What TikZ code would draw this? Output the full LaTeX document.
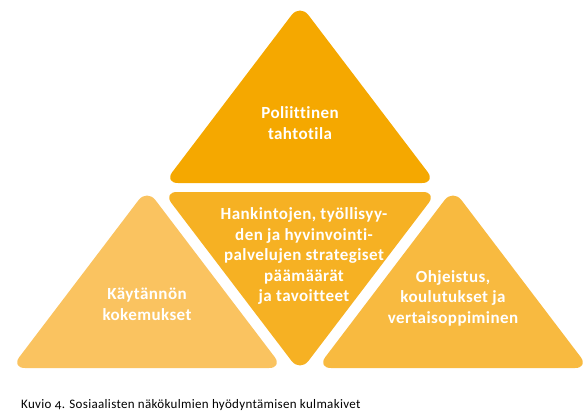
\documentclass[tikz,border=0pt]{standalone}
\usepackage{fontspec}
\setmainfont{Carlito}[Numbers=OldStyle, Ligatures=NoCommon]
\newfontfamily\lblfont{Carlito}[LetterSpace=2.5, Ligatures=NoCommon]
\newfontfamily\capfont{Carlito}[LetterSpace=2.5, Ligatures=NoCommon, Numbers=OldStyle]
\definecolor{topc}{RGB}{245,168,0}
\definecolor{midc}{RGB}{246,177,35}
\definecolor{leftc}{RGB}{250,195,96}
\definecolor{rightc}{RGB}{248,186,64}
\tikzset{
  tri/.style={rounded corners=14pt},
  lbl/.style={text=white, align=center, font=\lblfont\fontsize{17}{20.5}\selectfont\bfseries, inner sep=0pt},
  captext/.style={anchor=west, font=\capfont\fontsize{13}{15}\selectfont, inner sep=0pt}
}
\begin{document}
\begin{tikzpicture}[x=1pt,y=-1pt]
\useasboundingbox (0,0) rectangle (585,417);
% top
\fill[topc,tri] (300,4) -- (436,183) -- (164,183) -- cycle;
% middle inverted
\fill[midc,tri] (163,192) -- (437,192) -- (300,372) -- cycle;
% left
\fill[leftc,tri] (147,189) -- (283,368) -- (11,368) -- cycle;
% right
\fill[rightc,tri] (453,189) -- (589,368) -- (317,368) -- cycle;
\node[lbl] (t) at (300,123) {Poliittinen\\tahtotila};
\node[lbl] (m) at (304,256) {Hankintojen, työllisyy-\\den ja hyvinvointi-\\palvelujen strategiset\\päämäärät\\ja tavoitteet};
\node[lbl] (l) at (147,304.5) {Käytännön\\kokemukset};
\node[lbl] (r) at (453,298) {Ohjeistus,\\koulutukset ja\\vertaisoppiminen};
\node[captext] (c) at (21,405) {Kuvio 4. Sosiaalisten näkökulmien hyödyntämisen kulmakivet};
\end{tikzpicture}
\end{document}
